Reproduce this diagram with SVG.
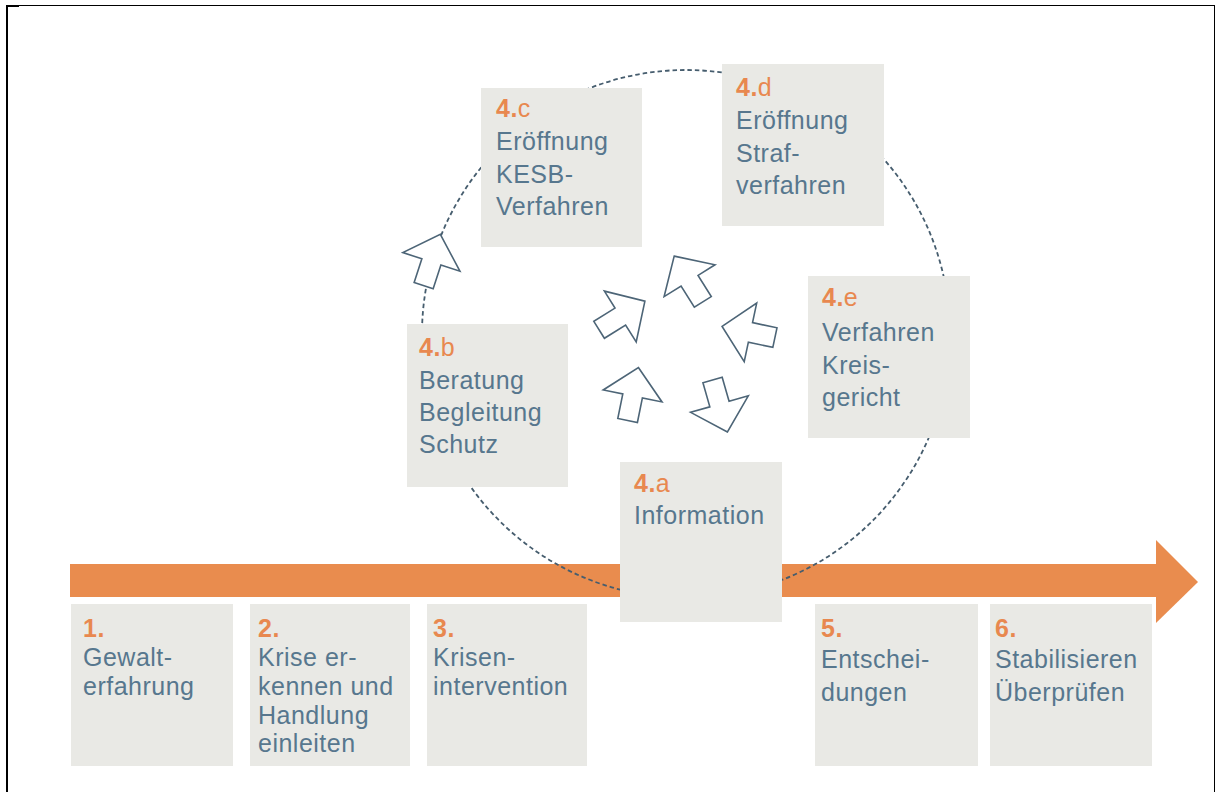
<svg xmlns="http://www.w3.org/2000/svg" xmlns:xlink="http://www.w3.org/1999/xlink" width="1216" height="792" viewBox="0 0 1216 792">
  <style>
    .box { fill: #e9e9e5; }
    .lbl { font-family: "Liberation Sans", Arial, Helvetica, sans-serif; font-size: 25px; letter-spacing: 0.5px; fill: #57778e; }
    .num { fill: #e8884f; }
    .num .d { font-weight: bold; }
    .ring { fill: none; stroke: #465d6e; stroke-width: 1.8; stroke-dasharray: 4.5 3; }
    .blk { fill: #ffffff; stroke: #4d6577; stroke-width: 1.6; stroke-linejoin: miter; }
    .flow { fill: #e98c4e; }
  </style>
  <defs>
    <!-- block arrow pointing up, centred on the origin -->
    <path id="blockArrow" d="M0,-27 L30,2 L10,2 L10,27 L-10,27 L-10,2 L-30,2 Z"/>
  </defs>

  <rect x="0" y="0" width="1216" height="792" fill="#ffffff"/>

  <!-- frame -->
  <g id="frame" fill="#000000">
    <rect x="6" y="5" width="1209" height="1"/>
    <rect x="6" y="5" width="13" height="2"/>
    <rect x="6" y="5" width="2" height="787"/>
    <rect x="1214" y="5" width="1" height="787"/>
  </g>

  <!-- timeline arrow -->
  <g id="timeline" class="flow">
    <rect x="70" y="564" width="1087" height="33"/>
    <polygon points="1156,540 1198,582 1156,623"/>
  </g>

  <!-- connectors: dashed cycle and rotating block arrows -->
  <g id="connectors">
    <circle class="ring" cx="686" cy="334" r="264"/>
    <use xlink:href="#blockArrow" href="#blockArrow" class="blk" transform="translate(432,260) rotate(18)"/>
    <use xlink:href="#blockArrow" href="#blockArrow" class="blk" transform="translate(622,315.5) rotate(58)"/>
    <use xlink:href="#blockArrow" href="#blockArrow" class="blk" transform="translate(688.5,279) rotate(-32)"/>
    <use xlink:href="#blockArrow" href="#blockArrow" class="blk" transform="translate(748.5,332) rotate(-78)"/>
    <use xlink:href="#blockArrow" href="#blockArrow" class="blk" transform="translate(720,406) rotate(164)"/>
    <use xlink:href="#blockArrow" href="#blockArrow" class="blk" transform="translate(633,394) rotate(11.5)"/>
  </g>

  <!-- step 1 -->
  <g id="step1">
    <rect class="box" x="71" y="604" width="162" height="162"/>
    <text class="lbl" x="83"><tspan class="num" y="637"><tspan class="d">1.</tspan></tspan><tspan x="83" y="666">Gewalt-</tspan><tspan x="83" y="695">erfahrung</tspan></text>
  </g>

  <!-- step 2 -->
  <g id="step2">
    <rect class="box" x="250" y="604" width="160" height="162"/>
    <text class="lbl" x="258"><tspan class="num" y="637"><tspan class="d">2.</tspan></tspan><tspan x="258" y="666">Krise er-</tspan><tspan x="258" y="695">kennen und</tspan><tspan x="258" y="724">Handlung</tspan><tspan x="258" y="752">einleiten</tspan></text>
  </g>

  <!-- step 3 -->
  <g id="step3">
    <rect class="box" x="427" y="604" width="160" height="162"/>
    <text class="lbl" x="433"><tspan class="num" y="637"><tspan class="d">3.</tspan></tspan><tspan x="433" y="666">Krisen-</tspan><tspan x="433" y="695">intervention</tspan></text>
  </g>

  <!-- step 4.a -->
  <g id="step4a">
    <rect class="box" x="620" y="462" width="162" height="160"/>
    <text class="lbl" x="634"><tspan class="num" y="492"><tspan class="d">4.</tspan>a</tspan><tspan x="634" y="524">Information</tspan></text>
  </g>

  <!-- step 4.b -->
  <g id="step4b">
    <rect class="box" x="407" y="324" width="161" height="163"/>
    <text class="lbl" x="419"><tspan class="num" y="356"><tspan class="d">4.</tspan>b</tspan><tspan x="419" y="389">Beratung</tspan><tspan x="419" y="421">Begleitung</tspan><tspan x="419" y="453">Schutz</tspan></text>
  </g>

  <!-- step 4.c -->
  <g id="step4c">
    <rect class="box" x="481" y="88" width="161" height="159"/>
    <text class="lbl" x="496"><tspan class="num" y="117"><tspan class="d">4.</tspan>c</tspan><tspan x="496" y="150">Eröffnung</tspan><tspan x="496" y="183">KESB-</tspan><tspan x="496" y="215">Verfahren</tspan></text>
  </g>

  <!-- step 4.d -->
  <g id="step4d">
    <rect class="box" x="722" y="64" width="162" height="162"/>
    <text class="lbl" x="736"><tspan class="num" y="96"><tspan class="d">4.</tspan>d</tspan><tspan x="736" y="129">Eröffnung</tspan><tspan x="736" y="162">Straf-</tspan><tspan x="736" y="194">verfahren</tspan></text>
  </g>

  <!-- step 4.e -->
  <g id="step4e">
    <rect class="box" x="808" y="276" width="162" height="162"/>
    <text class="lbl" x="822"><tspan class="num" y="306"><tspan class="d">4.</tspan>e</tspan><tspan x="822" y="341">Verfahren</tspan><tspan x="822" y="374">Kreis-</tspan><tspan x="822" y="406">gericht</tspan></text>
  </g>

  <!-- step 5 -->
  <g id="step5">
    <rect class="box" x="815" y="604" width="163" height="162"/>
    <text class="lbl" x="821"><tspan class="num" y="637"><tspan class="d">5.</tspan></tspan><tspan x="821" y="668">Entschei-</tspan><tspan x="821" y="701">dungen</tspan></text>
  </g>

  <!-- step 6 -->
  <g id="step6">
    <rect class="box" x="990" y="604" width="162" height="162"/>
    <text class="lbl" x="995"><tspan class="num" y="637"><tspan class="d">6.</tspan></tspan><tspan x="995" y="668">Stabilisieren</tspan><tspan x="995" y="701">Überprüfen</tspan></text>
  </g>
</svg>
